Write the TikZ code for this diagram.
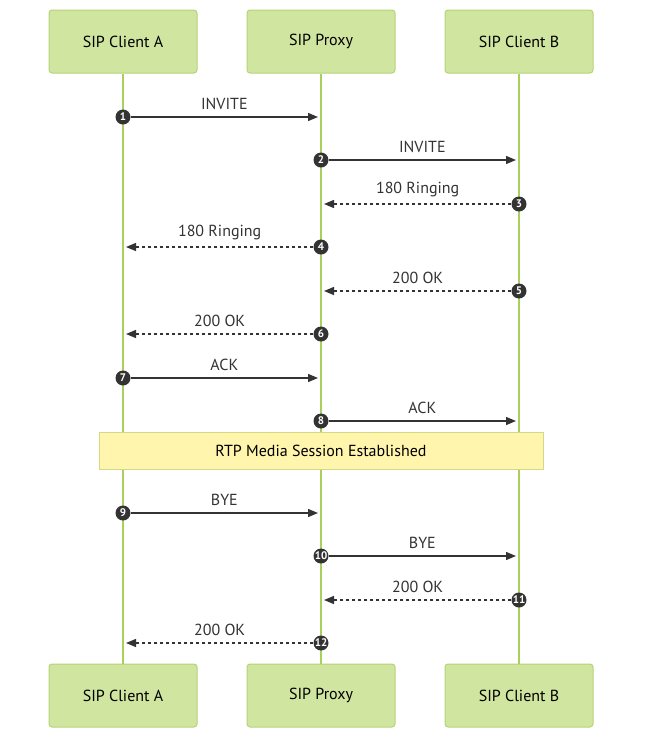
\documentclass[tikz,border=0pt]{standalone}
\usepackage{fontspec}
\setmainfont{PT Sans}
\usetikzlibrary{arrows.meta}
\definecolor{boxfill}{HTML}{D0E5A0}
\definecolor{boxline}{HTML}{B4D477}
\definecolor{lifeline}{HTML}{A9D05C}
\definecolor{notefill}{HTML}{FFF5AD}
\definecolor{noteline}{HTML}{D2DA86}
\definecolor{ink}{HTML}{333333}
\tikzset{
  actor/.style={draw=boxline, fill=boxfill, rounded corners=3pt, line width=1pt,
    minimum width=148pt, minimum height=63pt, text=black, font=\fontsize{16}{19}\selectfont},
  life/.style={draw=lifeline, line width=2pt},
  note/.style={draw=noteline, fill=notefill, line width=1pt,
    minimum width=444pt, minimum height=37pt, text=black, font=\fontsize{16}{19}\selectfont},
  num/.style={circle, fill=ink, text=white, inner sep=0pt, minimum size=15pt,
    font=\bfseries\fontsize{11}{12}\selectfont},
  call/.style={draw=ink, line width=1.3pt, -{Triangle[length=10pt,width=8pt]}},
  reply/.style={call, dash pattern=on 3pt off 3pt},
  lbl/.style={above=3pt, text=ink, font=\fontsize{16}{19}\selectfont}
}
\begin{document}
\begin{tikzpicture}[x=1pt, y=-1pt]
  \useasboundingbox (0,0) rectangle (650,748);
  % participants
  \node[actor] (at) at (123,41.5) {SIP Client A};
  \node[actor] (pt) at (321,41.5) {SIP Proxy};
  \node[actor] (bt) at (519,41.5) {SIP Client B};
  \node[actor] (ab) at (123,695.5) {SIP Client A};
  \node[actor] (pb) at (321,695.5) {SIP Proxy};
  \node[actor] (bb) at (519,695.5) {SIP Client B};
  \draw[life] (at) -- (ab);
  \draw[life] (pt) -- (pb);
  \draw[life] (bt) -- (bb);

  % call setup
  \node[num] (m1) at (123,117) {1};
  \coordinate (e1) at (318,117);
  \draw[call] (m1) -- node[lbl] {INVITE} (e1);
  \node[num] (m2) at (321,160) {2};
  \coordinate (e2) at (516,160);
  \draw[call] (m2) -- node[lbl] {INVITE} (e2);
  \node[num] (m3) at (519,204) {3};
  \coordinate (e3) at (324,204);
  \draw[reply] (m3) -- node[lbl] {180 Ringing} (e3);
  \node[num] (m4) at (321,247) {4};
  \coordinate (e4) at (126,247);
  \draw[reply] (m4) -- node[lbl] {180 Ringing} (e4);
  \node[num] (m5) at (519,291) {5};
  \coordinate (e5) at (324,291);
  \draw[reply] (m5) -- node[lbl] {200 OK} (e5);
  \node[num] (m6) at (321,334) {6};
  \coordinate (e6) at (126,334);
  \draw[reply] (m6) -- node[lbl] {200 OK} (e6);
  \node[num] (m7) at (123,378) {7};
  \coordinate (e7) at (318,378);
  \draw[call] (m7) -- node[lbl] {ACK} (e7);
  \node[num] (m8) at (321,421) {8};
  \coordinate (e8) at (516,421);
  \draw[call] (m8) -- node[lbl] {ACK} (e8);

  \node[note] (rtp) at (321,450.5) {RTP Media Session Established};

  % teardown
  \node[num] (m9) at (123,513) {9};
  \coordinate (e9) at (318,513);
  \draw[call] (m9) -- node[lbl] {BYE} (e9);
  \node[num] (m10) at (321,556) {10};
  \coordinate (e10) at (516,556);
  \draw[call] (m10) -- node[lbl] {BYE} (e10);
  \node[num] (m11) at (519,600) {11};
  \coordinate (e11) at (324,600);
  \draw[reply] (m11) -- node[lbl] {200 OK} (e11);
  \node[num] (m12) at (321,643) {12};
  \coordinate (e12) at (126,643);
  \draw[reply] (m12) -- node[lbl] {200 OK} (e12);
\end{tikzpicture}
\end{document}
